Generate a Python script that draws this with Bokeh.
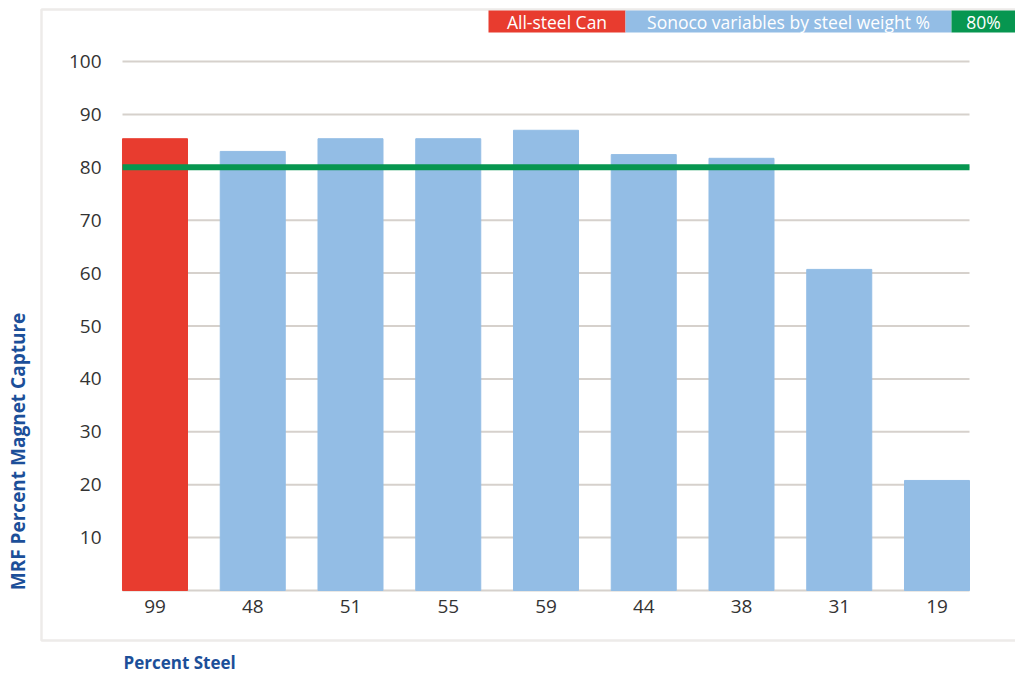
import math

from bokeh.core.properties import value
from bokeh.embed import file_html
from bokeh.models import BoxAnnotation, ColumnDataSource, Label
from bokeh.plotting import figure
from bokeh.resources import INLINE

# Percent steel by weight for each container, and its magnet capture rate at the MRF
steel_pct = ["99", "48", "51", "55", "59", "44", "38", "31", "19"]
magnet_capture = [85.4, 83.0, 85.4, 85.4, 87.0, 82.4, 81.7, 60.7, 20.8]
series = ["All-steel Can"] + ["Sonoco variables by steel weight %"] * 8
target_pct = 80
y_ticks = [10, 20, 30, 40, 50, 60, 70, 80, 90, 100]

RED = "#e83c2f"
BLUE = "#93bde5"
GREEN = "#079650"
NAVY = "#1c4f99"
GRID = "#d6d1cc"
PANEL = "#c4beb7"
TEXT = "#333333"
FONT = "Open Sans"

W, H = 1015, 674
# pixel box of the plotting area inside the canvas
PLOT_L, PLOT_R, PLOT_T, PLOT_B = 122, 969, 61, 590
BAR_W = 0.665

xs = list(range(len(steel_pct)))
x_lo, x_hi = xs[0] - BAR_W / 2, xs[-1] + BAR_W / 2
y_lo, y_hi = 0, 100
sx = (PLOT_R - PLOT_L) / (x_hi - x_lo)
sy = (PLOT_B - PLOT_T) / (y_hi - y_lo)

colors = [RED if s == "All-steel Can" else BLUE for s in series]
src = ColumnDataSource(dict(x=xs, top=magnet_capture, color=colors, label=steel_pct))

p = figure(
    width=W, height=H,
    x_range=(x_lo - PLOT_L / sx, x_hi + (W - PLOT_R) / sx),
    y_range=(y_lo - (H - PLOT_B) / sy, y_hi + PLOT_T / sy),
    x_axis_location=None, y_axis_location=None,
    output_backend="svg", toolbar_location=None,
    min_border=0,
)
p.outline_line_color = None
p.grid.visible = False
p.background_fill_color = "white"
p.border_fill_color = "white"

# horizontal gridlines and baseline, limited to the bar area
p.segment(x0=x_lo, x1=x_hi, y0=y_ticks, y1=y_ticks, line_color=GRID, line_width=2)
p.segment(x0=x_lo, x1=x_hi, y0=y_lo, y1=y_lo, line_color=GRID, line_width=2)

p.vbar(x="x", top="top", width=BAR_W, color="color", source=src)

# 80% capture reference line across the bars
p.segment(x0=[x_lo], x1=[x_hi], y0=[target_pct], y1=[target_pct],
          line_width=6, line_color=GREEN, line_cap="butt")

# tick labels
p.text(x=x_lo, y=y_ticks, text=[str(t) for t in y_ticks], x_offset=-21,
       text_align="right", text_baseline="middle",
       text_font=value(FONT), text_font_size="19px", text_color=TEXT)
p.text(x="x", y=y_lo, text="label", source=src, y_offset=9,
       text_align="center", text_baseline="top",
       text_font=value(FONT), text_font_size="19px", text_color=TEXT)

# panel border
p.add_layout(BoxAnnotation(left=41, right=1030, top=9, bottom=640,
                           left_units="canvas", right_units="canvas",
                           top_units="canvas", bottom_units="canvas",
                           fill_alpha=0, line_color=PANEL, line_width=2.5))

# legend strip
legend_items = [("All-steel Can", RED, 488, 625),
                ("Sonoco variables by steel weight %", BLUE, 625, 951),
                ("80%", GREEN, 951, 1015)]
for text, col, x0, x1 in legend_items:
    p.add_layout(BoxAnnotation(left=x0, right=x1, top=10, bottom=32,
                               left_units="canvas", right_units="canvas",
                               top_units="canvas", bottom_units="canvas",
                               fill_color=col, fill_alpha=1, line_color=None))
    p.add_layout(Label(x=(x0 + x1) / 2, y=21, x_units="canvas", y_units="canvas",
                       text=text, text_align="center", text_baseline="middle",
                       text_font=FONT, text_font_size="17.5px", text_color="white"))

# axis titles
p.add_layout(Label(x=17, y=451, x_units="canvas", y_units="canvas",
                   text="MRF Percent Magnet Capture", angle=math.pi / 2,
                   text_align="center", text_baseline="middle",
                   text_font=FONT, text_font_size="19px", text_font_style="bold",
                   text_color=NAVY))
p.add_layout(Label(x=123, y=662, x_units="canvas", y_units="canvas",
                   text="Percent Steel", text_align="left", text_baseline="middle",
                   text_font=FONT, text_font_size="17px", text_font_style="bold",
                   text_color=NAVY))

open("out.html", "w").write(file_html(p, INLINE))
